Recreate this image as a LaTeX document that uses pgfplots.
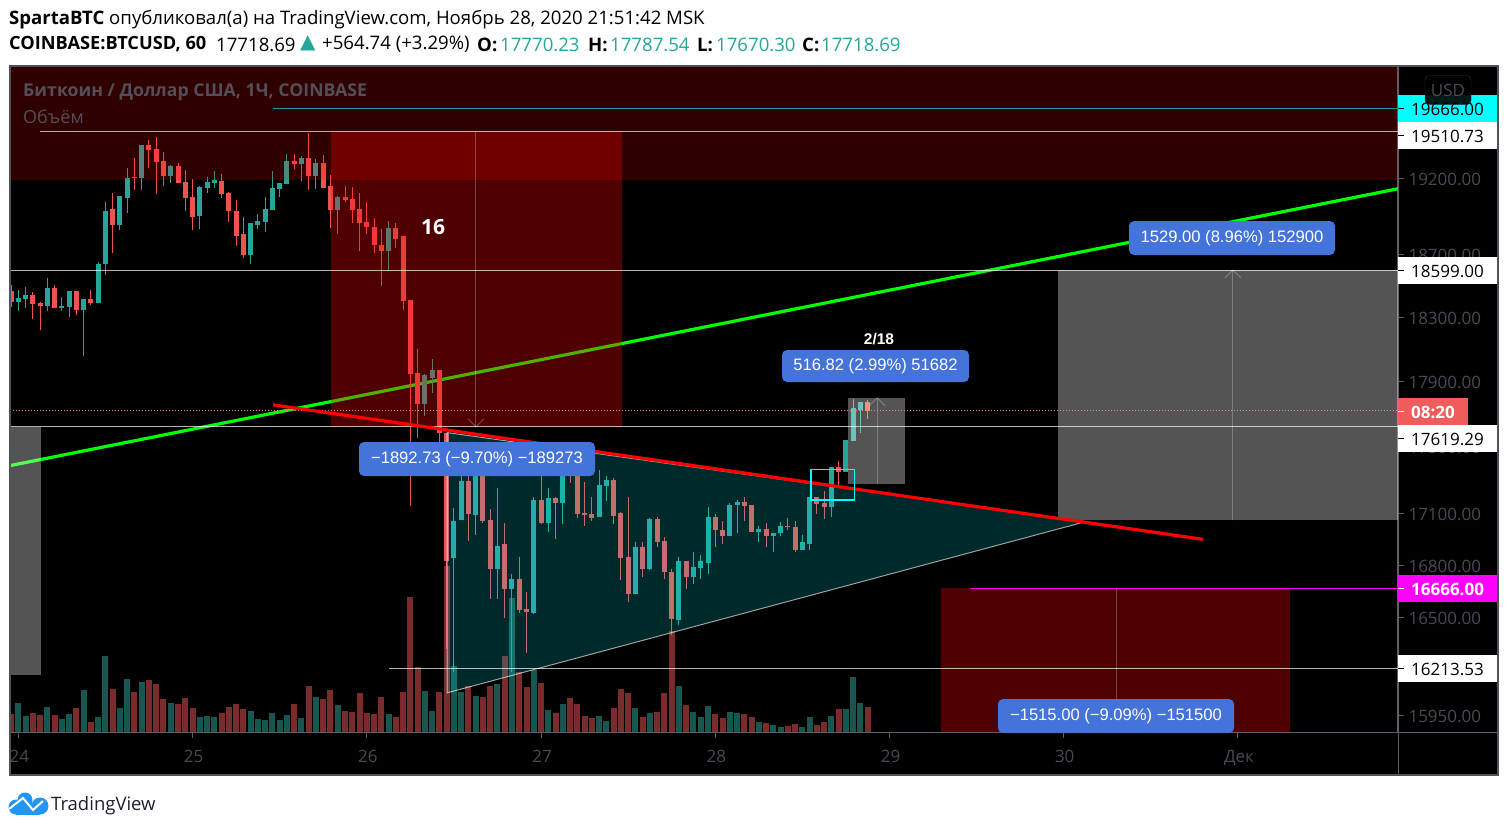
\documentclass[border=0pt]{standalone}
\usepackage{fontspec}
\setmainfont{Open Sans}
\newfontfamily\arial{Liberation Sans}
\newfontfamily\sym{DejaVu Sans}
\usepackage{pgfplots}
\usepackage{pgfplotstable}
\pgfplotsset{compat=1.18}
\newcommand\fs[1]{\fontsize{#1}{#1}\selectfont}
\definecolor{cgreen}{HTML}{26A69A}
\definecolor{cred}{HTML}{EF5350}
\definecolor{vgreen}{HTML}{17574F}
\definecolor{vred}{HTML}{7A2B2B}
\definecolor{axisgrey}{HTML}{5D606B}
\definecolor{ticktext}{HTML}{484A55}
\definecolor{blabel}{HTML}{4473D9}
\definecolor{tealtxt}{HTML}{26A69A}
\definecolor{logoblue}{RGB}{33,150,243}
\definecolor{titlegrey}{RGB}{84,78,88}
\definecolor{tvtext}{RGB}{30,34,45}
\definecolor{usdborder}{RGB}{50,50,56}
\definecolor{trifill}{RGB}{0,228,239}
\definecolor{cyanx}{RGB}{0,255,255}
\definecolor{magentax}{RGB}{255,0,255}
\definecolor{tealline}{RGB}{40,150,150}
\definecolor{greenx}{RGB}{0,255,0}
\definecolor{redx}{RGB}{255,0,0}
\pgfplotstableread{
t o h l c
-1 18467 18506 18365 18397
2 18441 18461 18290 18384
3 18390 18397 18222 18372
5 18487 18506 18359 18359
8 18467 18467 18315 18347
10 18415 18474 18378 18390
13 18997 19101 18706 18893
16 19208 19335 19121 19201
18 19422 19455 19268 19388
19 19395 19475 19094 19308
20 19315 19375 19148 19215
22 19281 19302 19168 19168
23 19174 19255 18984 19067
24 19074 19195 18855 18945
28 19181 19228 19067 19094
29 19101 19108 18913 18984
30 18984 19055 18751 18822
31 18829 18939 18674 18700
38 19315 19362 19261 19295
40 19335 19502 19121 19215
42 19302 19355 19134 19134
43 19148 19221 18874 18990
45 19074 19148 19042 19055
46 19061 19141 18906 18990
47 18997 19101 18725 18906
48 18913 19042 18829 18881
49 18881 18932 18706 18764
50 18764 18861 18499 18719
52 18874 18900 18745 18803
53 18816 18816 18347 18403
54 18409 18409 17147 17947
55 17953 18103 17550 17761
58 17972 17972 17484 17586
59 17586 17586 16324 16821
62 17297 17393 16943 17101
64 17393 17423 17048 17060
65 17066 17130 16606 16775
67 16920 17048 16499 16664
69 16722 16850 16527 16544
70 16549 16647 16296 16532
72 17182 17345 17037 17048
74 17194 17200 16949 17165
76 17405 17423 17285 17333
77 17327 17345 17077 17101
78 17106 17291 17031 17095
79 17101 17200 17060 17077
82 17303 17315 17037 17089
83 17106 17112 16716 16839
84 16850 17200 16589 16635
86 16908 16932 16734 16780
88 17071 17083 16908 16937
89 16943 16961 16722 16757
90 16763 16780 16403 16493
92 16827 16827 16664 16734
96 17083 17101 16903 17002
97 17007 17060 16926 16972
100 17170 17200 17060 17147
101 17153 17153 16996 16996
103 17013 17048 16908 16972
106 17031 17077 17002 17025
107 17025 17060 16879 16885
110 17200 17200 17101 17159
111 17165 17236 17071 17141
113 17375 17417 17273 17351
117 17770 17788 17670 17719
}\redc
\pgfplotstableread{
t o h l c
0 18397 18474 18340 18422
1 18415 18493 18359 18441
4 18372 18551 18340 18487
6 18359 18428 18340 18372
7 18365 18467 18303 18467
9 18347 18415 18053 18415
11 18390 18648 18390 18642
12 18635 19042 18571 18984
14 18893 19081 18855 19081
15 19067 19268 18971 19201
17 19201 19422 19121 19422
21 19215 19288 19168 19281
25 18952 19148 18861 19141
26 19134 19208 19101 19174
27 19168 19248 19134 19188
32 18700 18906 18642 18900
33 18893 18965 18861 18919
34 18913 19074 18848 18997
35 18990 19248 18990 19134
36 19128 19168 19074 19168
37 19161 19362 19161 19315
39 19295 19348 19181 19335
41 19215 19328 19128 19302
44 18990 19081 18829 19074
51 18719 18919 18596 18874
56 17761 17947 17689 17935
57 17922 18035 17829 17972
60 16839 17135 16195 17060
61 17066 17321 17066 17297
63 17095 17423 16978 17393
66 16775 17254 16606 16914
68 16664 16751 16195 16722
71 16527 17200 16516 17182
73 17048 17254 16996 17194
75 17165 17405 17037 17387
80 17083 17357 17083 17273
81 17267 17327 17176 17303
85 16635 16937 16635 16908
87 16780 17077 16769 17071
91 16487 16850 16459 16827
93 16734 16874 16693 16792
94 16786 16856 16722 16821
95 16815 17141 16751 17083
98 16972 17165 16972 17153
99 17153 17182 16984 17170
102 16996 17031 16937 17013
104 16967 16990 16879 16990
105 16984 17054 16972 17031
108 16885 16978 16885 16932
109 16926 17200 16891 17200
112 17141 17375 17083 17375
114 17351 17538 17351 17538
115 17532 17790 17532 17737
116 17725 17773 17586 17773
}\greenc
\pgfplotstableread{
t v
-1 18
2 19
3 17
5 17
8 24
10 10
13 43
16 40
18 52
19 48
20 33
22 28
23 34
24 24
28 19
29 25
30 28
31 23
38 28
40 46
42 33
43 42
45 21
46 20
47 39
48 19
49 18
50 35
52 15
53 40
54 135
55 65
58 40
59 166
62 46
64 35
65 46
67 76
69 60
70 45
72 49
74 19
76 34
77 28
78 16
79 14
82 24
83 43
84 39
86 15
88 20
89 39
90 101
92 27
96 18
97 14
100 18
101 15
103 9
106 6
107 8
110 7
111 10
113 23
117 25
}\redv
\pgfplotstableread{
t v
0 29
1 16
4 25
6 13
7 18
9 42
11 15
12 76
14 24
15 53
17 50
21 29
25 15
26 16
27 15
32 21
33 13
34 12
35 19
36 12
37 17
39 14
41 35
44 27
51 18
56 41
57 21
60 66
61 40
63 36
66 48
68 134
71 62
73 22
75 28
80 16
81 11
85 24
87 19
91 46
93 20
94 15
95 26
98 20
99 19
102 10
104 7
105 5
108 5
109 15
112 16
114 23
115 55
116 29
}\greenv
\pgfplotsset{paneaxis/.style={
  at={(10pt,-732pt)},anchor=south west,scale only axis,width=1388pt,height=666pt,
  xmin=-1.143,xmax=190.04}}
\newcommand\candles[2]{%
 \pgfplotstablegetrowsof{#1}\pgfmathtruncatemacro\nrows{\pgfplotsretval-1}%
 \pgfplotsforeachungrouped \i in {0,...,\nrows}{%
  \pgfplotstablegetelem{\i}{t}\of#1\let\ct\pgfplotsretval
  \pgfplotstablegetelem{\i}{o}\of#1\let\co\pgfplotsretval
  \pgfplotstablegetelem{\i}{h}\of#1\let\ch\pgfplotsretval
  \pgfplotstablegetelem{\i}{l}\of#1\let\cl\pgfplotsretval
  \pgfplotstablegetelem{\i}{c}\of#1\let\cc\pgfplotsretval
  \addplot[draw=#2,line width=1pt] coordinates {(\ct,\cl)(\ct,\ch)};
  \addplot[draw=#2,line width=5pt] coordinates {(\ct,\co)(\ct,\cc)};
 }}
\begin{document}
\begin{tikzpicture}
\useasboundingbox (0,0) rectangle (1508pt,-831pt);
\fill[white] (0,0) rectangle (1508pt,-831pt);
\fill[black] (10pt,-66pt) rectangle (1498pt,-775pt);
% volume pane
\begin{axis}[paneaxis,ymin=0,ymax=666,hide axis]
\addplot[ycomb,draw=vred,line width=6pt,mark=none] table[x=t,y=v]{\redv};
\addplot[ycomb,draw=vgreen,line width=6pt,mark=none] table[x=t,y=v]{\greenv};
\end{axis}
% price pane: logarithmic price scale
\begin{axis}[paneaxis,
  y coord trafo/.code={\begingroup\pgfkeys{/pgf/fpu=true,/pgf/fpu/output format=fixed}\pgfmathparse{ln(#1)*1000-9500}\global\let\mytrafores\pgfmathresult\endgroup\let\pgfmathresult\mytrafores},
  ymin=15861,ymax=19956,
  axis x line=bottom,axis y line=right,
  axis line style={-,draw=axisgrey,line width=1pt},
  xtick={0,24,48,72,96,120,144,168},
  xticklabels={24,25,26,27,28,29,30,Дек},
  ytick={15950,16500,16800,17100,17500,17900,18300,18700,19200},
  yticklabels={15950.00,16500.00,16800.00,17100.00,17500.00,17900.00,18300.00,18700.00,19200.00},
  yminorticks=false,xminorticks=false,scaled y ticks=false,scaled x ticks=false,
  tick align=outside,major tick length=6pt,
  tick style={draw=axisgrey,line width=1pt},
  xticklabel style={font=\fs{17},text=ticktext,yshift=-9pt,xshift=1pt},
  yticklabel style={font=\fs{17},text=ticktext,anchor=west,xshift=1pt,yshift=-1pt},
  every axis plot/.append style={mark=none}]
% green trend line under the zones
\addplot[draw=greenx,line width=3.2pt] coordinates {(-1.143,17387)(190.04,19128)};
% candles: wicks and bodies
\candles{\redc}{cred}
\candles{\greenc}{cgreen}
% zones
\addplot[fill=redx,fill opacity=.19,draw=none] coordinates {(-1.143,19188)(190.04,19188)(190.04,19956)(-1.143,19956)} -- cycle;
\addplot[fill=redx,fill opacity=.31,draw=none] coordinates {(43.07,17619.29)(83.15,17619.29)(83.15,19510.73)(43.07,19510.73)} -- cycle;
\addplot[fill=redx,fill opacity=.31,draw=none] coordinates {(127.1,15861)(175.2,15861)(175.2,16666)(127.1,16666)} -- cycle;
\addplot[fill=white,fill opacity=.33,draw=none] coordinates {(-1.143,16178)(3.13,16178)(3.13,17619.29)(-1.143,17619.29)} -- cycle;
\addplot[fill=white,fill opacity=.33,draw=none] coordinates {(114.3,17275)(122.1,17275)(122.1,17798)(114.3,17798)} -- cycle;
\addplot[fill=white,fill opacity=.33,draw=none] coordinates {(143.2,17062)(190.04,17062)(190.04,18599)(143.2,18599)} -- cycle;
% triangle
\addplot[fill=trifill,fill opacity=.18,draw=white,draw opacity=.6,line width=1pt] coordinates {(59.05,17586)(59.05,16076)(146.9,17054)} -- cycle;
% measure lines
\addplot[draw=white,draw opacity=.25,line width=1pt] coordinates {(63.04,19510.73)(63.04,17619.29)};
\addplot[draw=white,draw opacity=.25,line width=1pt] coordinates {(61.94,17670)(63.04,17619.29)(64.14,17670)};
\addplot[draw=white,draw opacity=.25,line width=1pt] coordinates {(118.3,17275)(118.3,17798)};
\addplot[draw=white,draw opacity=.25,line width=1pt] coordinates {(117.2,17749)(118.3,17798)(119.4,17749)};
\addplot[draw=white,draw opacity=.25,line width=1pt] coordinates {(167.3,17062)(167.3,18599)};
\addplot[draw=white,draw opacity=.25,line width=1pt] coordinates {(166.2,18551)(167.3,18599)(168.4,18551)};
\addplot[draw=white,draw opacity=.25,line width=1pt] coordinates {(151.3,16666)(151.3,15861)};
% horizontal levels
\addplot[draw=tealline,line width=1pt] coordinates {(35.08,19666)(190.04,19666)};
\addplot[draw=white,draw opacity=.65,line width=1pt] coordinates {(2.99,19510.73)(190.04,19510.73)};
\addplot[draw=white,draw opacity=.7,line width=1pt] coordinates {(-1.143,18599)(190.04,18599)};
\addplot[draw=white,draw opacity=.7,line width=1pt] coordinates {(-1.143,17619.29)(190.04,17619.29)};
\addplot[draw=magentax,line width=1pt] coordinates {(131.1,16666)(190.04,16666)};
\addplot[draw=white,draw opacity=.7,line width=1pt] coordinates {(51.06,16213.53)(190.04,16213.53)};
\addplot[draw=cred!70!white,line width=1pt,dotted] coordinates {(-1.143,17718.69)(190.04,17718.69)};
% red trend line and cyan box
\addplot[draw=redx,line width=3.2pt] coordinates {(35.08,17755)(163.2,16949)};
\addplot[draw=cyanx,line width=1.5pt] coordinates {(109.2,17182)(115.2,17182)(115.2,17363)(109.2,17363)} -- cycle;
\end{axis}
% frame
\draw[axisgrey,line width=1pt] (10pt,-732pt) -- (1498pt,-732pt);
\draw[axisgrey,line width=1pt] (1398pt,-66pt) -- (1398pt,-775pt);
\draw[axisgrey!85!black,line width=2.4pt] (10pt,-66pt) rectangle (1498pt,-775pt);
% header
\node[anchor=west,inner sep=0] at (9pt,-19.5pt) {\fs{18.6}\textbf{SpartaBTC} опубликовал(а) на TradingView.com, Ноябрь 28, 2020 21:51:42 MSK};
\node[anchor=west,inner sep=0] at (9pt,-44.5pt) {\fs{18.2}\textbf{COINBASE:BTCUSD, 60}};
\node[anchor=west,inner sep=0] at (216pt,-44.5pt) {\fs{18.6}17718.69};
\node[anchor=west,inner sep=0,text=tealtxt] at (300pt,-43.5pt) {\sym\fs{20}▲};
\node[anchor=west,inner sep=0] at (322pt,-44.5pt) {\fs{18.6}+564.74 (+3.29\%)};
\node[anchor=west,inner sep=0] at (477pt,-44.5pt) {\fs{18.6}\textbf{O:}};
\node[anchor=west,inner sep=0,text=tealtxt] at (500pt,-44.5pt) {\fs{18.6}17770.23};
\node[anchor=west,inner sep=0] at (588pt,-44.5pt) {\fs{18.6}\textbf{H:}};
\node[anchor=west,inner sep=0,text=tealtxt] at (610pt,-44.5pt) {\fs{18.6}17787.54};
\node[anchor=west,inner sep=0] at (697pt,-44.5pt) {\fs{18.6}\textbf{L:}};
\node[anchor=west,inner sep=0,text=tealtxt] at (716pt,-44.5pt) {\fs{18.6}17670.30};
\node[anchor=west,inner sep=0] at (802pt,-44.5pt) {\fs{18.6}\textbf{C:}};
\node[anchor=west,inner sep=0,text=tealtxt] at (821pt,-44.5pt) {\fs{18.6}17718.69};
% pane titles
\node[anchor=west,inner sep=0,text=titlegrey] at (23pt,-92.5pt) {\fs{17.7}\textbf{Биткоин / Доллар США, 1Ч, COINBASE}};
\node[anchor=west,inner sep=0,text=titlegrey] at (23pt,-117pt) {\fs{18}Объём};
\node[text=white,inner sep=0] at (433pt,-227pt) {\fs{21}\textbf{16}};
% price labels
\newcommand\plabel[5]{%
 \fill[#2] (1398pt,-#3pt) rectangle (1497pt,-#3pt-27pt);
 \draw[#4,line width=1pt] (1398pt,-#3pt-13.5pt) -- (1404pt,-#3pt-13.5pt);
 \node[anchor=west,inner sep=0,text=#4] at (1411pt,-#3pt-14.5pt) {\fs{17}#5};}
\plabel{}{cyanx}{95}{black}{19666.00}
\plabel{}{white}{122}{black}{19510.73}
\plabel{}{white}{257}{black}{18599.00}
\plabel{}{white}{425}{black}{17619.29}
\plabel{}{magentax}{575}{white}{\textbf{16666.00}}
\plabel{}{white}{655}{black}{16213.53}
\fill[cred!95!white] (1398pt,-398pt) rectangle (1468pt,-425pt);
\draw[white,line width=1pt] (1398pt,-411pt) -- (1404pt,-411pt);
\node[anchor=west,inner sep=0,text=white] at (1411pt,-412pt) {\fs{17}\textbf{08:20}};
\node[draw=usdborder,fill=black,fill opacity=.9,text opacity=1,rounded corners=4pt,minimum width=46pt,minimum height=29pt,inner sep=0,text=ticktext] at (1448pt,-90pt) {\fs{17}USD};
% range labels
\newcommand\rlabel[5]{\node[fill=blabel,rounded corners=5pt,text=white,minimum width=#3pt,minimum height=#4pt,inner sep=0] at (#1pt,-#2pt) {\arial\fs{16.6}#5};}
\rlabel{1232}{238}{206}{34}{1529.00 (8.96\%) 152900}
\rlabel{875.5}{366}{187}{32}{516.82 (2.99\%) 51682}
\rlabel{477}{459}{236}{34}{−1892.73 (−9.70\%) −189273}
\rlabel{1116}{716}{236}{34}{−1515.00 (−9.09\%) −151500}
\node[text=white,inner sep=0] at (879pt,-339pt) {\arial\fs{15.5}\textbf{2/18}};
% logo
\fill[logoblue] (16pt,-807pt) circle (7.5pt);
\fill[logoblue] (25pt,-800pt) circle (7.5pt);
\fill[logoblue] (40pt,-806pt) circle (8.5pt);
\fill[logoblue] (16pt,-814.5pt) rectangle (40pt,-803pt);
\draw[white,line width=2pt] (9pt,-809pt) -- (23pt,-798pt) -- (33pt,-810pt) -- (43pt,-801pt);
\node[anchor=west,inner sep=0,text=tvtext] at (51pt,-805.5pt) {\fs{18.5}TradingView};
\end{tikzpicture}
\end{document}
